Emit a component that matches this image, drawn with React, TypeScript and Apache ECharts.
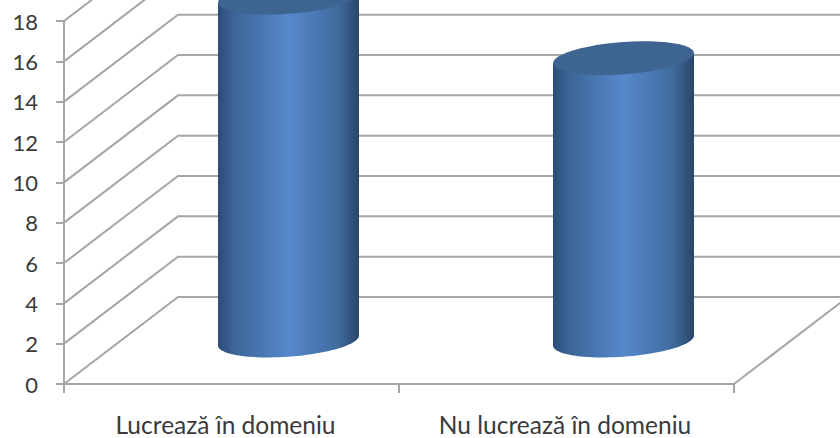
import React, { useEffect, useRef } from "react";
import * as echarts from "echarts";

const categories = ["Lucrează în domeniu", "Nu lucrează în domeniu"];
const values = [17, 14];
const yTicks = [0, 2, 4, 6, 8, 10, 12, 14, 16, 18];

const DEPTH_X = 114;
const DEPTH_Y = 87;
const RX = 70.5;
const RY = 16.2;
const TILT = 5;
const LINE = "#a6a6a6";
const LINE_W = 2;
const TEXT = "#3a3a3a";
const FONT = "Lato";

const sheared = (cx: number, cy: number, from: number, to: number) => {
  const pts: number[][] = [];
  const n = 48;
  for (let i = 0; i <= n; i++) {
    const t = from + ((to - from) * i) / n;
    const dx = RX * Math.cos(t);
    pts.push([cx + dx, cy - (TILT * dx) / RX + RY * Math.sin(t)]);
  }
  return pts;
};

export default function App() {
  const ref = useRef<HTMLDivElement>(null);
  useEffect(() => {
    document.body.style.margin = "0";
    const chart = echarts.init(ref.current!, undefined, { renderer: "svg" });
    const side = new echarts.graphic.LinearGradient(0, 0, 1, 0, [
      { offset: 0, color: "#2c4c78" },
      { offset: 0.12, color: "#3d6698" },
      { offset: 0.5, color: "#5688cc" },
      { offset: 0.85, color: "#406c9f" },
      { offset: 1, color: "#2a4568" },
    ]);
    chart.setOption({
      animation: false,
      backgroundColor: "#ffffff",
      grid: { left: 64, right: 106, top: 21, height: 363, containLabel: false },
      xAxis: {
        type: "category",
        data: [
          { value: categories[0], textStyle: { padding: [0, 12, 0, 0] } },
          { value: categories[1], textStyle: { padding: [0, 3, 0, 0] } },
        ],
        axisLine: { lineStyle: { color: LINE, width: LINE_W } },
        axisTick: { show: true, length: 9, alignWithLabel: false, lineStyle: { color: LINE, width: LINE_W } },
        axisLabel: { color: TEXT, fontFamily: FONT, fontSize: 24.5, lineHeight: 24, margin: 28, interval: 0 },
      },
      yAxis: {
        type: "value",
        min: 0,
        max: 18,
        interval: 2,
        splitLine: { show: false },
        axisLine: { show: true, lineStyle: { color: LINE, width: LINE_W } },
        axisTick: { show: true, length: 8, lineStyle: { color: LINE, width: LINE_W } },
        axisLabel: { color: TEXT, fontFamily: FONT, fontSize: 22, margin: 26 },
      },
      series: [
        {
          type: "custom",
          z: 1,
          silent: true,
          clip: false,
          data: yTicks.map((v) => [0, v]),
          renderItem: (params: any, api: any) => {
            const cs = params.coordSys;
            const y = api.coord([0, api.value(1)])[1];
            const style = { stroke: LINE, lineWidth: LINE_W, fill: "none" };
            const children: any[] = [
              {
                type: "polyline",
                shape: {
                  points: [
                    [cs.x, y],
                    [cs.x + DEPTH_X, y - DEPTH_Y],
                    [cs.x + cs.width + DEPTH_X, y - DEPTH_Y],
                  ],
                },
                style,
              },
            ];
            if (api.value(1) === 0) {
              children.push({
                type: "line",
                shape: {
                  x1: cs.x + cs.width,
                  y1: y,
                  x2: cs.x + cs.width + DEPTH_X,
                  y2: y - DEPTH_Y,
                },
                style,
              });
            }
            return { type: "group", children };
          },
        },
        {
          type: "custom",
          z: 5,
          silent: true,
          clip: false,
          data: values.map((v, i) => [i, v]),
          renderItem: (_params: any, api: any) => {
            const i = api.value(0);
            const base = api.coord([i, 0]);
            const top = api.coord([i, api.value(1)]);
            const cx = base[0] + DEPTH_X / 2;
            const yB = base[1] - DEPTH_Y / 2;
            const yT = top[1] - DEPTH_Y / 2;
            const lower = sheared(cx, yB, 0, Math.PI);
            const body = [
              [cx + RX, yT - TILT],
              ...lower,
              [cx - RX, yT + TILT],
            ];
            return {
              type: "group",
              children: [
                { type: "polygon", shape: { points: body }, style: { fill: side } },
                {
                  type: "polygon",
                  shape: { points: sheared(cx, yT, 0, Math.PI * 2) },
                  style: { fill: "#3e6491" },
                },
              ],
            };
          },
        },
      ],
    });
    return () => chart.dispose();
  }, []);
  return <div ref={ref} style={{ position: "fixed", left: 0, top: 0, width: 840, height: 438 }} />;
}
